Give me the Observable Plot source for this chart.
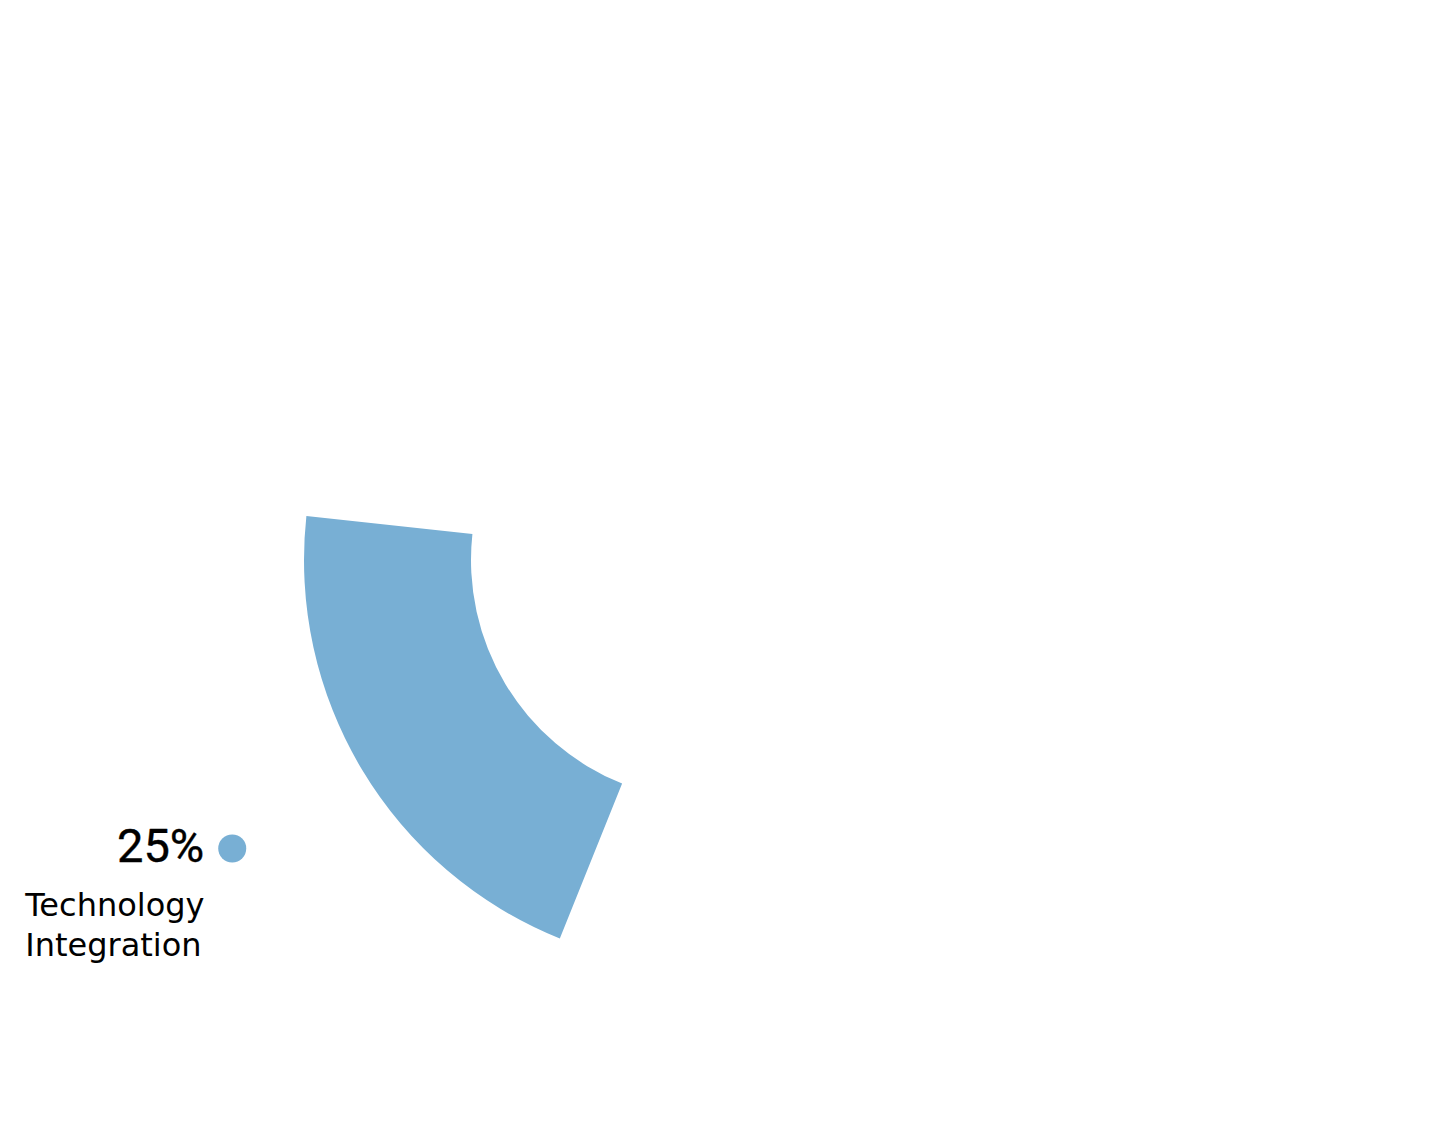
<!DOCTYPE html>
<html><head><meta charset="utf-8">
<script src="https://cdn.jsdelivr.net/npm/d3@7"></script>
<script src="https://cdn.jsdelivr.net/npm/@observablehq/plot@0.6"></script>
<style>body{margin:0;background:#fff}</style>
</head><body><div id="chart"></div>
<script>
// ---- data ----
const categories = ["Technology Integration"];
const shares = [25];
const colors = ["#78afd4"];
const labelLines = ["Technology\nIntegration"];

// ---- layout ----
const W = 1452, H = 1124;
const cx = 712, cy = 560, rOuter = 408, rInner = 241, rLabel = 560;
const startDeg = 201.9, sweepDeg = 297.2; // sweep covering 100%
const rad = d => d * Math.PI / 180;

let acc = 0;
const slices = categories.map((c, i) => {
  const a0 = rad(startDeg + acc / 100 * sweepDeg);
  acc += shares[i];
  const a1 = rad(startDeg + acc / 100 * sweepDeg);
  const am = (a0 + a1) / 2;
  return {
    category: c, share: shares[i], color: colors[i], label: labelLines[i],
    a0, a1,
    lx: cx + rLabel * Math.sin(am),
    ly: cy - rLabel * Math.cos(am)
  };
});

function arcMark(data) {
  return (index, scales) => {
    const g = d3.create("svg:g");
    const arc = d3.arc().innerRadius(rInner).outerRadius(rOuter);
    g.selectAll("path").data(data).join("path")
      .attr("transform", `translate(${scales.x(cx)},${scales.y(cy)})`)
      .attr("d", d => arc({startAngle: d.a0, endAngle: d.a1}))
      .attr("fill", d => d.color);
    return g.node();
  };
}

const chart = Plot.plot({
  width: W, height: H,
  margin: 0,
  x: {domain: [0, W], range: [0, W], axis: null},
  y: {domain: [0, H], range: [0, H], axis: null},
  style: {background: "#fff"},
  marks: [
    arcMark(slices),
    Plot.dot(slices, {x: "lx", y: "ly", r: 14, fill: "color", stroke: null}),
    Plot.text(slices, {x: "lx", y: "ly", text: d => d.share + "%", textAnchor: "end", lineAnchor: "middle",
      dx: -28, dy: -2, fontSize: 47, fontWeight: 400, fontFamily: "Roboto", fill: "#000",
      stroke: "#000", strokeWidth: 0.4}),
    Plot.text(slices, {x: "lx", y: "ly", text: "label", textAnchor: "start", lineAnchor: "top",
      dx: -207, dy: 39, fontSize: 32, lineHeight: 1.25, fontFamily: "DejaVu Sans", fill: "#000"})
  ]
});
document.getElementById("chart").appendChild(chart);
</script>
</body></html>
